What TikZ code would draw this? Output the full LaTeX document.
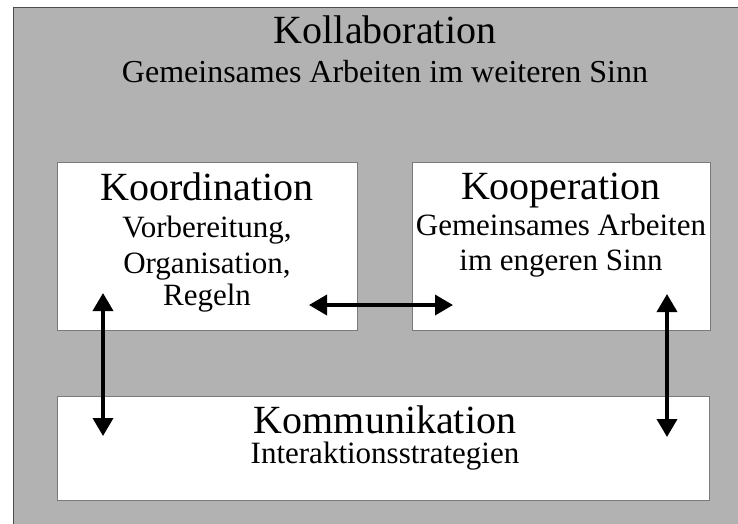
\documentclass[tikz,border=0pt]{standalone}
\usepackage{fontspec}
\setmainfont{Liberation Serif}
\usetikzlibrary{arrows.meta}
\definecolor{bgpat}{HTML}{B2B2B2}
\definecolor{boxline}{HTML}{7A7A7A}
\tikzset{
  panel/.style={draw=boxline, line width=1.2pt, fill=white, rectangle, inner sep=0pt},
  headtxt/.style={anchor=base, inner sep=0pt, font=\fontsize{40}{40}\selectfont},
  subtxt/.style={anchor=base, inner sep=0pt, font=\fontsize{31}{31}\selectfont},
  dblarrow/.style={line width=3.6pt, {Triangle[length=18pt,width=20pt]}-{Triangle[length=18pt,width=20pt]}}
}
\begin{document}
\begin{tikzpicture}[x=1pt,y=-1pt]
\useasboundingbox (0,0) rectangle (738,523);
\fill[white] (0,0) rectangle (738,523);
\node[rectangle, fill=bgpat, draw=black!70, line width=0.8pt, inner sep=0pt, minimum width=726pt, minimum height=517pt, anchor=north west] (bg) at (13,7) {};
\node[panel, minimum width=300pt, minimum height=168pt, anchor=north west] (koord) at (57,162) {};
\node[panel, minimum width=298pt, minimum height=168pt, anchor=north west] (koop) at (412,162) {};
\node[panel, minimum width=652pt, minimum height=104pt, anchor=north west] (komm) at (57,396) {};
\node[headtxt] (t1) at (385,43) {Kollaboration};
\node[subtxt, font=\fontsize{32}{32}\selectfont] (t2) at (385,82) {Gemeinsames Arbeiten im weiteren Sinn};
\node[headtxt] (k1) at (207,200) {Koordination};
\node[subtxt] (k2) at (207,237) {Vorbereitung,};
\node[subtxt] (k3) at (207,273) {Organisation,};
\node[subtxt] (k4) at (207,305) {Regeln};
\node[headtxt] (p1) at (561,199) {Kooperation};
\node[subtxt] (p2) at (561,235) {Gemeinsames Arbeiten};
\node[subtxt] (p3) at (561,270) {im engeren Sinn};
\node[headtxt] (m1) at (385,433) {Kommunikation};
\node[subtxt] (m2) at (385,463) {Interaktionsstrategien};
\coordinate (a1) at (103,293);
\coordinate (a2) at (103,436);
\coordinate (b1) at (667,294);
\coordinate (b2) at (667,437);
\coordinate (c1) at (309,305);
\coordinate (c2) at (453,305);
\draw[dblarrow] (a1) -- (a2);
\draw[dblarrow] (b1) -- (b2);
\draw[dblarrow] (c1) -- (c2);
\end{tikzpicture}
\end{document}
